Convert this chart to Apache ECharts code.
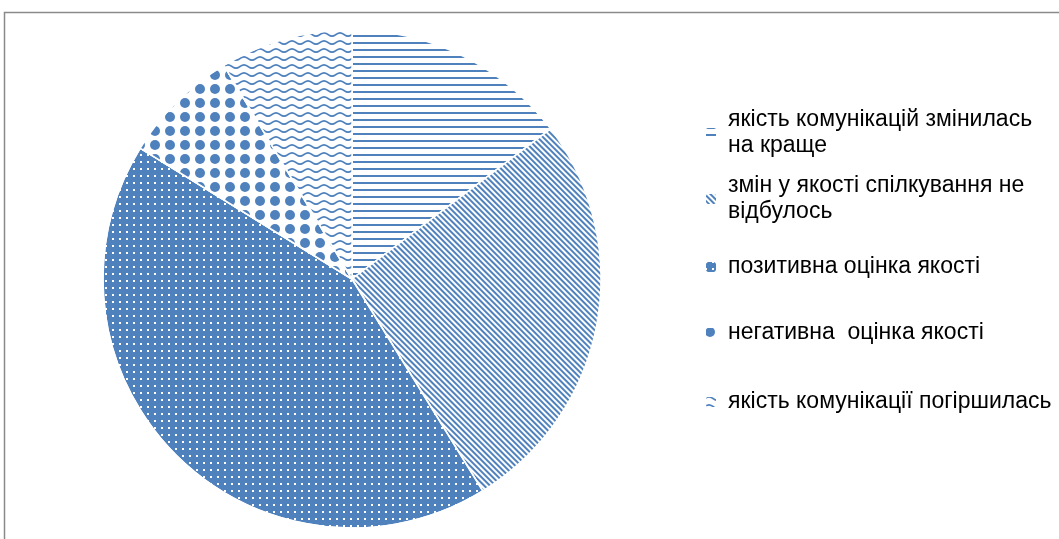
<!DOCTYPE html>
<html>
<head>
<meta charset="utf-8">
<script src="https://cdn.jsdelivr.net/npm/echarts@6/dist/echarts.min.js"></script>
<style>
html,body{margin:0;padding:0;background:#fff;}
#chart{width:1059px;height:539px;}
</style>
</head>
<body>
<div id="chart"></div>
<script>
// ---- data ----
const categories = [
  'якість комунікацій змінилась на краще',
  'змін у якості спілкування не відбулось',
  'позитивна оцінка якості',
  'негативна  оцінка якості',
  'якість комунікації погіршилась'
];
const values = [14.7, 26.5, 42.6, 7.6, 8.6];
const legendLabels = [
  'якість комунікацій змінилась\nна краще',
  'змін у якості спілкування не\nвідбулось',
  'позитивна оцінка якості',
  'негативна  оцінка якості',
  'якість комунікації погіршилась'
];

// ---- styles ----
const BLUE = '#4f81bd';
const wavePath = 'path://M0,1.6 Q4,-1.6 8,1.6 Q12,4.8 16,1.6 L16,3.4 Q12,6.6 8,3.4 Q4,0.2 0,3.4 Z';
const sliceStyles = [
  { color: '#fff', decal: { symbol: 'rect', symbolSize: 1, color: BLUE, dashArrayX: [1, 0], dashArrayY: [2, 5], rotation: 0 } },
  { color: '#fff', decal: { symbol: 'rect', symbolSize: 1, color: BLUE, dashArrayX: [1, 0], dashArrayY: [2, 2], rotation: Math.PI / 4 } },
  { color: BLUE, decal: { symbol: 'rect', symbolSize: 1, color: '#ffffff', dashArrayX: [2, 5], dashArrayY: [2, 5], rotation: 0 } },
  { color: '#fff', decal: { symbol: 'circle', symbolSize: 1, color: BLUE, dashArrayX: [10, 5], dashArrayY: [10, 4], rotation: 0 } },
  { color: '#fff', decal: { symbol: wavePath, symbolSize: 1, symbolKeepAspect: false, color: BLUE, dashArrayX: [16, 0], dashArrayY: [5, 3], rotation: 0 } }
];
const firstLineY = [133, 199, 267, 333, 402];
const LH = 26;

const chart = echarts.init(document.getElementById('chart'), null, { renderer: 'canvas' });

const legends = categories.map((name, i) => {
  const twoLines = legendLabels[i].indexOf('\n') >= 0;
  return {
    data: [name],
    orient: 'vertical',
    left: 704,
    top: twoLines ? firstLineY[i] - LH * 1.5 : firstLineY[i] - LH / 2,
    padding: 0,
    itemWidth: 12,
    itemHeight: 12,
    selectedMode: false,
    formatter: () => legendLabels[i],
    textStyle: {
      fontFamily: 'Liberation Sans',
      fontSize: 23,
      color: '#000',
      lineHeight: LH,
      padding: twoLines ? [LH, 0, 0, 6] : [0, 0, 0, 6]
    }
  };
});

chart.setOption({
  animation: false,
  aria: { enabled: false, decal: { show: false } },
  graphic: [{
    type: 'rect',
    shape: { x: 4.5, y: 12.5, width: 1200, height: 700 },
    style: { fill: 'none', stroke: '#8a8a8a', lineWidth: 1.5 },
    silent: true
  }],
  legend: legends,
  series: [{
    type: 'pie',
    center: [352, 279],
    radius: 249,
    startAngle: 90,
    clockwise: true,
    label: { show: false },
    labelLine: { show: false },
    emphasis: { disabled: true },
    itemStyle: { borderColor: '#fff', borderWidth: 1.5 },
    data: categories.map((name, i) => ({
      name: name,
      value: values[i],
      itemStyle: sliceStyles[i]
    }))
  }]
});
</script>
</body>
</html>
